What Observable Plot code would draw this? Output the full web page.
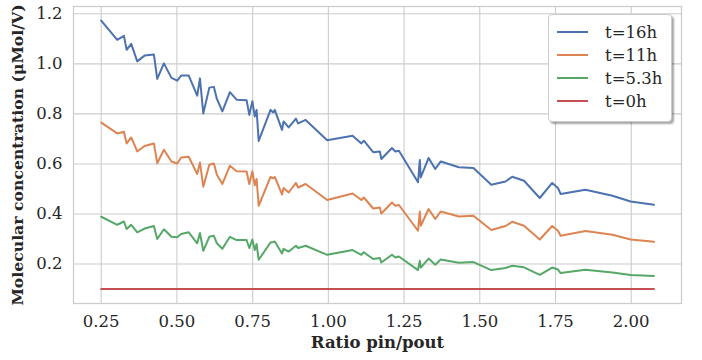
<!DOCTYPE html>
<html><head><meta charset="utf-8">
<script src="https://cdn.jsdelivr.net/npm/d3@7"></script>
<script src="https://cdn.jsdelivr.net/npm/@observablehq/plot@0.6"></script>
<style>
body{margin:0;background:#fff;}
#wrap{position:relative;width:702px;height:360px;font-family:"DejaVu Serif",serif;}
#wrap svg{font-family:"DejaVu Serif",serif;}
g[aria-label="x-axis label"] text{font-weight:bold;font-size:16.5px;fill:#262626;}
g[aria-label="y-axis label"] text{font-weight:bold;font-size:15.7px;fill:#262626;}
g[aria-label="x-axis tick label"] text, g[aria-label="y-axis tick label"] text{font-size:16.5px;fill:#262626;}
#legend{position:absolute;left:548px;top:14px;width:124px;height:108px;box-sizing:border-box;background:#fff;border:1px solid #cccccc;border-radius:4px;box-shadow:2px 2px 2px rgba(0,0,0,0.35);}
.item{position:absolute;left:8px;height:20px;display:flex;align-items:center;}
.sw{width:31px;height:0;border-top:2px solid;margin-right:17px;}
.lb{font-size:16.5px;color:#262626;}
</style></head><body><div id="wrap"></div>
<script>
const ratio = [0.25,0.303,0.325,0.334,0.349,0.369,0.393,0.424,0.435,0.457,0.482,0.501,0.514,0.539,0.567,0.576,0.587,0.607,0.622,0.632,0.65,0.675,0.697,0.73,0.739,0.749,0.757,0.763,0.77,0.809,0.818,0.823,0.847,0.852,0.869,0.893,0.9,0.925,0.996,1.08,1.109,1.117,1.148,1.17,1.175,1.21,1.221,1.233,1.296,1.302,1.305,1.331,1.353,1.371,1.431,1.479,1.538,1.585,1.607,1.646,1.698,1.739,1.758,1.767,1.849,1.938,1.998,2.075];
const t16 = [1.173,1.096,1.112,1.056,1.08,1.01,1.033,1.037,0.94,1.002,0.944,0.933,0.953,0.953,0.873,0.942,0.802,0.905,0.908,0.86,0.81,0.887,0.857,0.855,0.796,0.851,0.79,0.816,0.692,0.816,0.806,0.816,0.736,0.77,0.746,0.781,0.762,0.776,0.695,0.713,0.682,0.693,0.647,0.65,0.62,0.664,0.65,0.653,0.527,0.616,0.546,0.624,0.58,0.61,0.587,0.584,0.517,0.53,0.549,0.533,0.464,0.524,0.504,0.48,0.497,0.473,0.45,0.437];
const t11 = [0.765,0.722,0.729,0.682,0.706,0.65,0.672,0.682,0.603,0.657,0.61,0.602,0.626,0.629,0.56,0.606,0.509,0.597,0.602,0.557,0.52,0.593,0.571,0.57,0.52,0.571,0.515,0.54,0.433,0.548,0.543,0.548,0.478,0.504,0.486,0.524,0.506,0.52,0.456,0.482,0.456,0.466,0.422,0.426,0.402,0.446,0.433,0.436,0.333,0.41,0.353,0.42,0.38,0.41,0.39,0.393,0.336,0.352,0.369,0.353,0.298,0.352,0.333,0.313,0.332,0.317,0.298,0.289];
const t53 = [0.389,0.357,0.37,0.34,0.357,0.327,0.342,0.352,0.3,0.339,0.309,0.307,0.32,0.327,0.283,0.324,0.253,0.309,0.313,0.283,0.261,0.309,0.296,0.296,0.264,0.298,0.256,0.28,0.217,0.286,0.288,0.29,0.242,0.261,0.25,0.273,0.264,0.273,0.237,0.256,0.237,0.247,0.22,0.224,0.206,0.237,0.226,0.23,0.176,0.213,0.186,0.222,0.197,0.218,0.205,0.208,0.176,0.184,0.193,0.187,0.157,0.186,0.178,0.164,0.177,0.166,0.156,0.152];
const t0 = ratio.map(() => 0.1);
const seriesNames = ["t=16h","t=11h","t=5.3h","t=0h"];
const seriesColors = ["#4C72B0","#DD8452","#55A868","#C44E52"];
const xTicks = [0.25,0.5,0.75,1.0,1.25,1.5,1.75,2.0];
const yTicks = [0.2,0.4,0.6,0.8,1.0,1.2];

const seriesValues = [t16,t11,t53,t0];
const rows = [];
seriesValues.forEach((vals, s) => vals.forEach((v, i) => rows.push({x: ratio[i], y: v, s: seriesNames[s]})));

const plot = Plot.plot({
  width: 702, height: 360,
  marginLeft: 73, marginRight: 21, marginTop: 6, marginBottom: 57,
  x: {domain: [0.1585, 2.166], label: null},
  y: {domain: [0.0424, 1.2292], label: null},
  color: {domain: seriesNames, range: seriesColors},
  marks: [
    Plot.gridX(xTicks, {stroke: "#cccccc", strokeOpacity: 1, strokeWidth: 1.1}),
    Plot.gridY(yTicks, {stroke: "#cccccc", strokeOpacity: 1, strokeWidth: 1.1}),
    Plot.frame({stroke: "#cccccc", strokeWidth: 1.25}),
    Plot.axisX(xTicks, {tickSize: 0, tickPadding: 12, tickFormat: d3.format(".2f"), label: "Ratio pin/pout", labelArrow: "none", labelAnchor: "center", labelOffset: 44}),
    Plot.axisY(yTicks, {tickSize: 0, tickPadding: 11, tickFormat: d3.format(".1f"), label: "Molecular concentration (μMol/V)", labelArrow: "none", labelAnchor: "center", labelOffset: 62}),
    Plot.line(rows, {x: "x", y: "y", z: "s", stroke: "s", strokeWidth: 2, strokeLinejoin: "round"})
  ]
});
const wrap = document.getElementById("wrap");
wrap.appendChild(plot);
const lg = document.createElement("div");
lg.id = "legend";
seriesNames.forEach((n, i) => {
  const it = document.createElement("div");
  it.className = "item";
  it.style.top = (7 + i * 23) + "px";
  it.innerHTML = `<span class="sw" style="border-color:${seriesColors[i]}"></span><span class="lb">${n}</span>`;
  lg.appendChild(it);
});
wrap.appendChild(lg);
</script></body></html>
